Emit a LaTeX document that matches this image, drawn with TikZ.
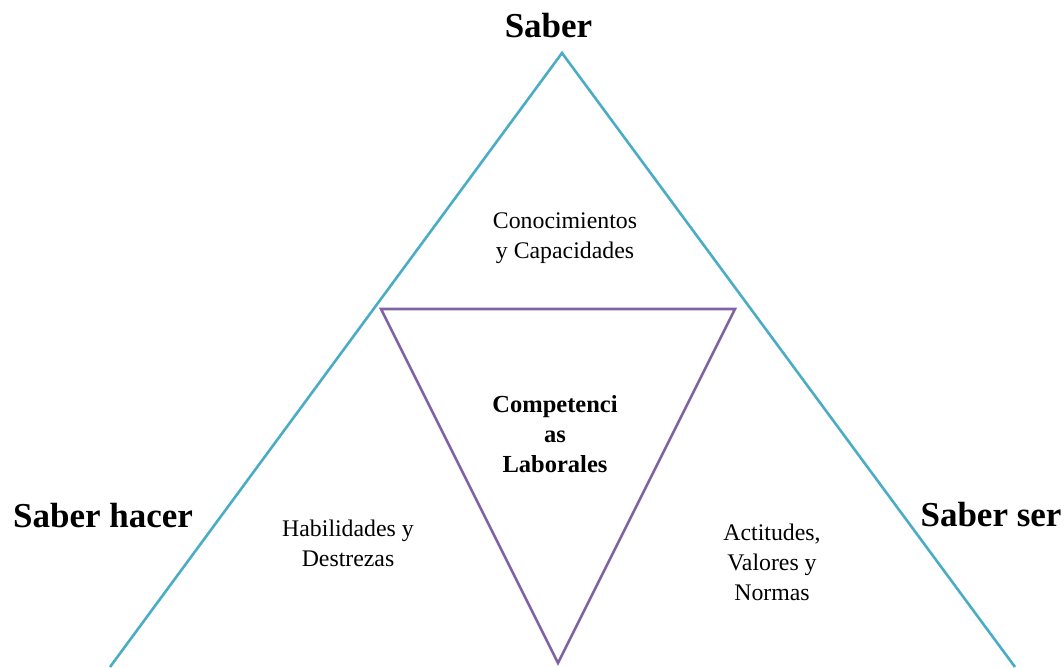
\documentclass[tikz,border=0pt]{standalone}
\usepackage{fontspec}
\setmainfont{Liberation Serif}
\definecolor{outerblue}{RGB}{75,172,198}
\definecolor{innerpurple}{RGB}{128,100,162}
\tikzset{
  outerline/.style={draw=outerblue, line width=2.6pt},
  innerline/.style={draw=innerpurple, line width=2.6pt, line join=miter},
  biglabel/.style={font=\bfseries\fontsize{35}{40}\selectfont, inner sep=0pt, anchor=base},
  smalltext/.style={font=\fontsize{23.8}{30}\selectfont, align=center, inner sep=0pt, anchor=base},
  boldtext/.style={font=\bfseries\fontsize{24.5}{30}\selectfont, align=center, inner sep=0pt, anchor=base}
}
\begin{document}
\begin{tikzpicture}[x=1pt,y=-1pt]
\path[use as bounding box] (0,0) rectangle (1064,667);
% outer triangle (cut off at the bottom)
\coordinate (apex) at (562,53);
\coordinate (bl) at (110,667);
\coordinate (br) at (1015,667);
\draw[outerline] (bl) -- (apex) -- (br);
% inner inverted triangle
\coordinate (itl) at (381,309);
\coordinate (itr) at (735,309);
\coordinate (ib) at (558,663);
\draw[innerline] (itl) -- (itr) -- (ib) -- cycle;
% labels
\node[biglabel] (saber) at (548.5,37) {Saber};
\node[biglabel] (hacer) at (103,527) {Saber hacer};
\node[biglabel] (ser) at (991,526) {Saber ser};
\node[smalltext] (conoc) at (565,258) {Conocimientos\\y Capacidades};
\node[boldtext] (comp) at (555,472) {Competenci\\as\\Laborales};
\node[smalltext] (habil) at (348,566) {Habilidades y\\Destrezas};
\node[smalltext] (actit) at (772,600) {Actitudes,\\Valores y\\Normas};
\end{tikzpicture}
\end{document}
